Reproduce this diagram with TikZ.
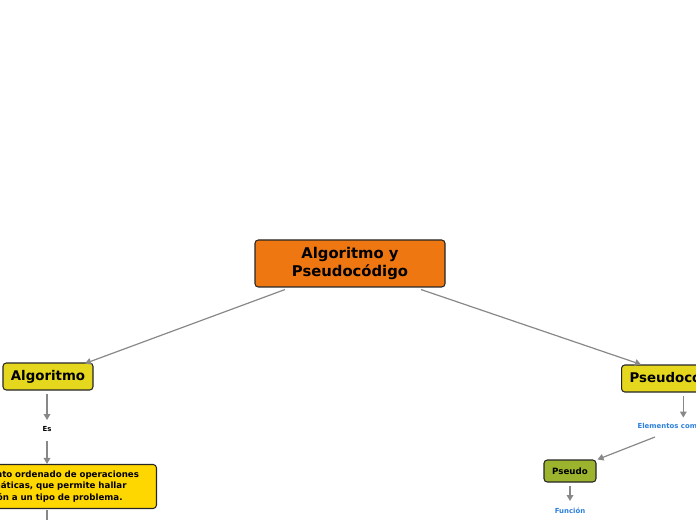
\documentclass[tikz,border=0pt]{standalone}
\usepackage{fontspec}
\setmainfont{DejaVu Sans}
\usetikzlibrary{arrows.meta,calc}
\definecolor{cOrange}{HTML}{EE7711}
\definecolor{cYellow}{HTML}{E5D61E}
\definecolor{cGold}{HTML}{FFD700}
\definecolor{cGreen}{HTML}{9CB32E}
\definecolor{cBlue}{HTML}{2A7FDB}
\definecolor{cLine}{HTML}{888888}
\tikzset{
 box/.style={draw=black!85, line width=0.8pt, rounded corners=2.5pt, inner sep=0pt, align=center},
 conn/.style={draw=cLine, line width=0.9pt, -{Triangle[width=5pt,length=4.5pt]}},
 plainline/.style={draw=cLine, line width=0.9pt},
 lbl/.style={inner sep=1pt, font=\bfseries\fontsize{5.2}{6}\selectfont},
}
\begin{document}
\begin{tikzpicture}[x=0.75pt,y=-0.75pt]
\useasboundingbox (0,0) rectangle (696,520);
\node[box, fill=cOrange, minimum width=142.5pt, minimum height=35.25pt, font=\bfseries\fontsize{11.1}{13}\selectfont] (root) at (350,263.5) {Algoritmo y\\Pseudocódigo};
\node[box, fill=cYellow, minimum width=67.5pt, minimum height=20.25pt, font=\bfseries\fontsize{10}{12}\selectfont] (alg) at (48,376.5) {Algoritmo};
\node[box, fill=cYellow, minimum height=20.25pt, inner xsep=6pt, anchor=west, font=\bfseries\fontsize{10}{12}\selectfont] (psc) at (621,378.5) {Pseudocódigo};
\node[lbl] (es) at (47,429) {Es};
\node[box, fill=cGold, anchor=east, text width=129pt, align=left, inner xsep=12pt, minimum height=33pt, font=\bfseries\fontsize{6.5}{8.6}\selectfont] (def) at (157,486.5) {Conjunto ordenado de operaciones\\sistemáticas, que permite hallar\\solución a un tipo de problema.};
\node[box, fill=cGreen, minimum width=39pt, minimum height=16.5pt, font=\bfseries\fontsize{6.5}{8}\selectfont] (pseudo) at (570,471) {Pseudo};
\node[lbl, text=cBlue, anchor=west] (elem) at (636,426) {Elementos comunes};
\node[lbl, text=cBlue] (func) at (570,511) {Función};
\coordinate (offb) at (47,530);

\draw[conn] ($(root.south)+(-65,2)$) -- ($(alg.north)+(37,1)$);
\draw[conn] ($(root.south)+(71,2)$) -- ($(psc.north west)+(20,0)$);
\draw[conn] ($(alg.south)+(-1,3)$) -- ($(es.center)+(0,-9)$);
\draw[conn] ($(es.center)+(0,12)$) -- (es.center |- def.north);
\draw[plainline] ($(es.center |- def.south)+(0,1)$) -- (offb);
\draw[conn] ($(psc.south)+(1.5,3)$) -- ($(psc.south)+(1.5,25)$);
\draw[conn] ($(elem.west)+(19,11)$) -- ($(pseudo.north east)+(1,0)$);
\draw[conn] ($(pseudo.south)+(0,3)$) -- ($(func.center)+(0,-10)$);
\end{tikzpicture}
\end{document}
